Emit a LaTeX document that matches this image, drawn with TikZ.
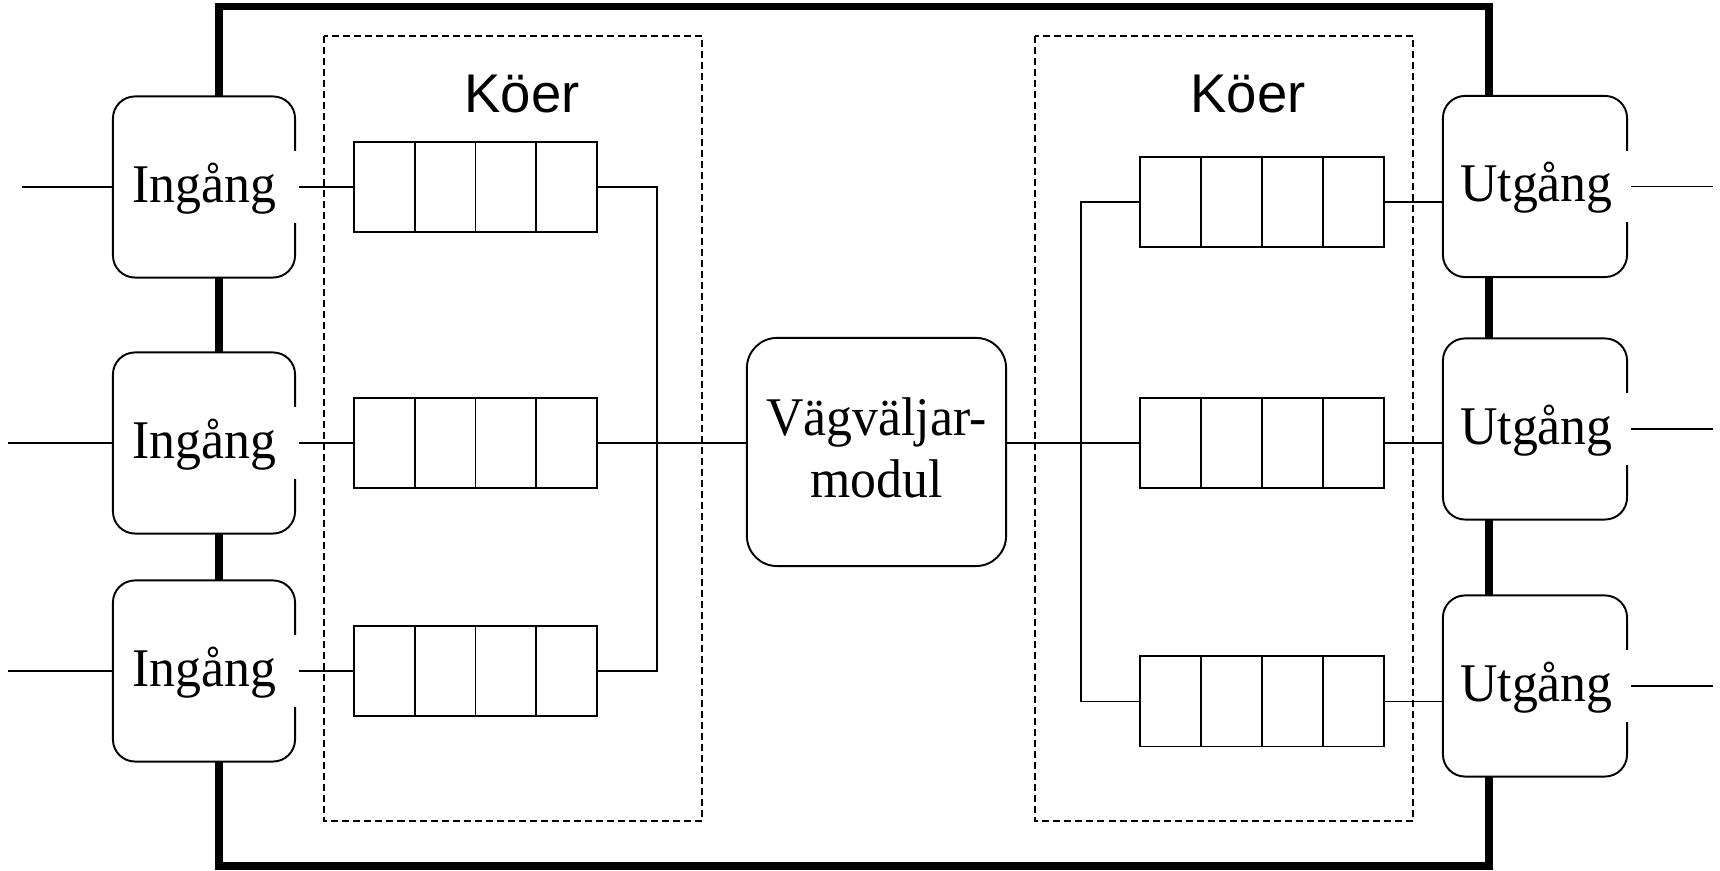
\documentclass[tikz,border=0pt]{standalone}
\usepackage{fontspec}
\setmainfont{Liberation Serif}[FakeStretch=0.95]
\newfontfamily\koerfont{Liberation Sans}
\usetikzlibrary{calc}
\begin{document}
\begin{tikzpicture}[x=0.01cm,y=-0.01cm,
  wire/.style={line width=0.55pt},
  outerframe/.style={line width=2pt},
  dashbox/.style={line width=0.5pt, dash pattern=on 0.07cm off 0.04cm},
  portbox/.style={draw, line width=0.55pt, fill=white, rounded corners=0.22cm,
    minimum width=1.82cm, minimum height=1.81cm, inner sep=0pt},
  porttxt/.style={fill=white, inner xsep=0pt, inner ysep=0pt,
    text height=0.51cm, text depth=0.20cm,
    font=\fontsize{15.5pt}{17.6pt}\selectfont},
  queue/.style={draw, line width=0.55pt, minimum width=2.43cm, minimum height=0.90cm, inner sep=0pt,
    path picture={\foreach \k in {1,2,3}{\draw[line width=0.55pt]
      ($(path picture bounding box.south west)!\k/4!(path picture bounding box.south east)$) --
      ($(path picture bounding box.north west)!\k/4!(path picture bounding box.north east)$);}}},
  routerbox/.style={draw, line width=0.55pt, rounded corners=0.3cm,
    minimum width=2.59cm, minimum height=2.28cm, inner sep=0pt, align=center,
    font=\fontsize{15.5pt}{17.6pt}\selectfont},
  koer/.style={anchor=base, inner sep=0pt, font=\koerfont\fontsize{15.5pt}{18pt}\selectfont}
]
\useasboundingbox (0,0) rectangle (1720,871);

% outer frame and dashed groups
\draw[outerframe] (219,7) rectangle (1489,866);
\draw[dashbox] (324,36) rectangle (702,821);
\draw[dashbox] (1035,36) rectangle (1413,821);
\node[koer] (k1) at (522,113) {Köer};
\node[koer] (k2) at (1248,113) {Köer};

% input ports
\node[portbox] (in1) at (204,187) {};
\node[portbox] (in2) at (204,443) {};
\node[portbox] (in3) at (204,671) {};
\node[porttxt, minimum width=1.80cm] (in1t) at (208,187) {Ingång\kern0.08cm};
\node[porttxt, minimum width=1.80cm] (in2t) at (208,443) {Ingång\kern0.08cm};
\node[porttxt, minimum width=1.80cm] (in3t) at (208,671) {Ingång\kern0.08cm};

% output ports
\node[portbox, minimum width=1.84cm] (o1) at (1535,186.5) {};
\node[portbox, minimum width=1.84cm] (o2) at (1535,429) {};
\node[portbox, minimum width=1.84cm] (o3) at (1535,686) {};
\node[porttxt, minimum width=1.78cm] (o1t) at (1541,186.5) {Utgång\kern0.09cm};
\node[porttxt, minimum width=1.78cm] (o2t) at (1541,429) {Utgång\kern0.09cm};
\node[porttxt, minimum width=1.78cm] (o3t) at (1541,686) {Utgång\kern0.09cm};

% queues
\node[queue] (q1) at (475.5,187) {};
\node[queue] (q2) at (475.5,443) {};
\node[queue] (q3) at (475.5,671) {};
\node[queue] (r1) at (1262,202) {};
\node[queue] (r2) at (1262,443) {};
\node[queue] (r3) at (1262,701.5) {};

% router
\node[routerbox] (router) at (876.5,452) {Vägväljar-\\modul\rule[-0.09cm]{0pt}{0pt}};

% free ends and junctions
\coordinate (a1) at (22,187);
\coordinate (a2) at (8,443);
\coordinate (a3) at (8,671);
\coordinate (b1) at (1713,186.5);
\coordinate (b2) at (1713,429);
\coordinate (b3) at (1713,686);
\coordinate (jl) at (657,443);
\coordinate (jr) at (1081,443);

% connectors
\draw[wire] (a1) -- (in1.west);
\draw[wire] (a2) -- (in2.west);
\draw[wire] (a3) -- (in3.west);
\draw[wire] (in1t.east) -- (q1.west);
\draw[wire] (in2t.east) -- (q2.west);
\draw[wire] (in3t.east) -- (q3.west);
\draw[wire] (q1.east) -| (jl) |- (q3.east);
\draw[wire] (q2.east) -- (q2.east -| router.west);
\draw[wire] (r2.west -| router.east) -- (r2.west);
\draw[wire] (r1.west) -| (jr) |- (r3.west);
\draw[wire] (r1.east) -- (r1.east -| o1.west);
\draw[wire] (r2.east) -- (r2.east -| o2.west);
\draw[wire] (r3.east) -- (r3.east -| o3.west);
\draw[wire] (o1t.east) -- (b1);
\draw[wire] (o2t.east) -- (b2);
\draw[wire] (o3t.east) -- (b3);
\end{tikzpicture}
\end{document}
